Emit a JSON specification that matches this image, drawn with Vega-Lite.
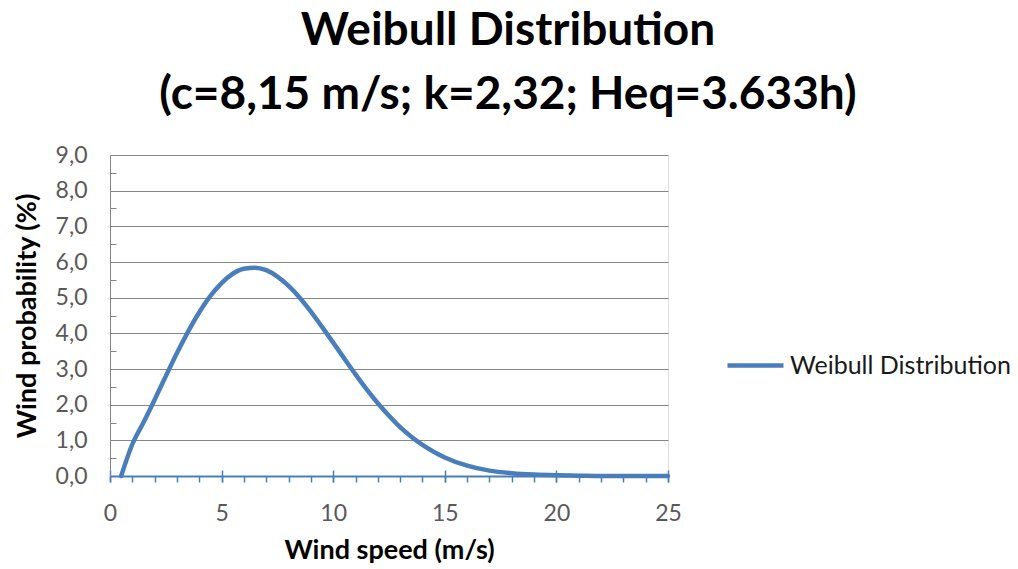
{
  "$schema": "https://vega.github.io/schema/vega-lite/v6.json",
  "autosize": {"type": "none"},
  "padding": {"left": 110, "top": 155, "right": 350, "bottom": 93},
  "width": 558,
  "height": 321,
  "background": "white",
  "title": {
    "text": ["Weibull Distribution", "(c=8,15 m/s; k=2,32; Heq=3.633h)"],
    "anchor": "middle",
    "frame": "group",
    "dx": 119,
    "offset": 25,
    "font": "Lato",
    "fontSize": 46,
    "fontWeight": "bold",
    "color": "#000000",
    "lineHeight": 64
  },
  "data": {
    "values": [
      {"speed": 0.5, "prob": 0.0},
      {"speed": 1, "prob": 0.89},
      {"speed": 1.5, "prob": 1.5},
      {"speed": 2, "prob": 2.14},
      {"speed": 2.5, "prob": 2.8},
      {"speed": 3, "prob": 3.45},
      {"speed": 3.5, "prob": 4.05},
      {"speed": 4, "prob": 4.59},
      {"speed": 4.5, "prob": 5.05},
      {"speed": 5, "prob": 5.41},
      {"speed": 5.5, "prob": 5.67},
      {"speed": 6, "prob": 5.81},
      {"speed": 6.5, "prob": 5.84},
      {"speed": 7, "prob": 5.77},
      {"speed": 7.5, "prob": 5.59},
      {"speed": 8, "prob": 5.33},
      {"speed": 8.5, "prob": 5.0},
      {"speed": 9, "prob": 4.61},
      {"speed": 9.5, "prob": 4.18},
      {"speed": 10, "prob": 3.74},
      {"speed": 10.5, "prob": 3.29},
      {"speed": 11, "prob": 2.85},
      {"speed": 11.5, "prob": 2.43},
      {"speed": 12, "prob": 2.04},
      {"speed": 12.5, "prob": 1.69},
      {"speed": 13, "prob": 1.37},
      {"speed": 13.5, "prob": 1.1},
      {"speed": 14, "prob": 0.87},
      {"speed": 14.5, "prob": 0.68},
      {"speed": 15, "prob": 0.52},
      {"speed": 16, "prob": 0.29},
      {"speed": 17, "prob": 0.15},
      {"speed": 18, "prob": 0.08},
      {"speed": 19, "prob": 0.04},
      {"speed": 20, "prob": 0.02},
      {"speed": 21, "prob": 0.01},
      {"speed": 22, "prob": 0.0},
      {"speed": 23, "prob": 0.0},
      {"speed": 24, "prob": 0.0},
      {"speed": 25, "prob": 0.0}
    ]
  },
  "transform": [{"calculate": "'Weibull Distribution'", "as": "series"}],
  "resolve": {"axis": {"x": "independent", "y": "independent"}},
  "layer": [
    {
      "mark": {"type": "line", "opacity": 0},
      "encoding": {
        "x": {
          "field": "speed", "type": "quantitative",
          "scale": {"domain": [0, 25], "nice": false, "zero": false},
          "axis": {
            "orient": "bottom", "values": [0, 5, 10, 15, 20, 25],
            "offset": -6, "tickSize": 12, "tickColor": "#4A7EBB", "tickWidth": 1.5,
            "domain": false, "labels": false, "grid": false, "title": null
          }
        },
        "y": {
          "field": "prob", "type": "quantitative",
          "scale": {"domain": [0, 9], "nice": false},
          "axis": {
            "orient": "left",
            "values": [0.5, 1.5, 2.5, 3.5, 4.5, 5.5, 6.5, 7.5, 8.5],
            "offset": -6, "tickSize": 6, "tickColor": "#868686", "tickWidth": 1,
            "domain": false, "labels": false, "grid": false, "title": null
          }
        }
      }
    },
    {
      "mark": {"type": "line", "strokeWidth": 4.5, "interpolate": "monotone", "strokeCap": "round"},
      "encoding": {
        "x": {
          "field": "speed", "type": "quantitative",
          "scale": {"domain": [0, 25], "nice": false, "zero": false},
          "axis": {
            "orient": "bottom",
            "values": [0,1,2,3,4,5,6,7,8,9,10,11,12,13,14,15,16,17,18,19,20,21,22,23,24,25],
            "labelExpr": "datum.value % 5 === 0 ? datum.label : ''",
            "labelOverlap": false, "labelFlush": false,
            "tickSize": 6, "tickColor": "#4A7EBB", "tickWidth": 1.5,
            "domainColor": "#4A7EBB", "domainWidth": 2,
            "grid": false,
            "labelFont": "Lato", "labelFontSize": 23, "labelColor": "#595959", "labelPadding": 20,
            "title": "Wind speed (m/s)",
            "titleFont": "Lato", "titleFontSize": 27, "titleFontWeight": "bold", "titleColor": "#000000",
            "titlePadding": 12
          }
        },
        "y": {
          "field": "prob", "type": "quantitative",
          "scale": {"domain": [0, 9], "nice": false},
          "axis": {
            "orient": "left",
            "values": [0,1,2,3,4,5,6,7,8,9],
            "labelExpr": "replace(format(datum.value, '.1f'), '.', ',')",
            "ticks": false,
            "domainColor": "#868686", "domainWidth": 1,
            "grid": true, "gridColor": "#868686", "gridWidth": 1,
            "labelFont": "Lato", "labelFontSize": 23, "labelColor": "#595959", "labelPadding": 23,
            "title": "Wind probability (%)",
            "titleFont": "Lato", "titleFontSize": 27, "titleFontWeight": "bold", "titleColor": "#000000",
            "titlePadding": 14
          }
        },
        "color": {
          "field": "series", "type": "nominal",
          "scale": {"range": ["#4A7EBB"]},
          "legend": {
            "title": null,
            "orient": "none",
            "legendX": 615,
            "legendY": 180,
            "symbolType": "stroke",
            "symbolSize": 3136,
            "symbolStrokeWidth": 4.5,
            "labelFont": "Lato", "labelFontSize": 25, "labelColor": "#1a1a1a",
            "labelOffset": 4, "labelLimit": 400
          }
        }
      }
    }
  ]
}
